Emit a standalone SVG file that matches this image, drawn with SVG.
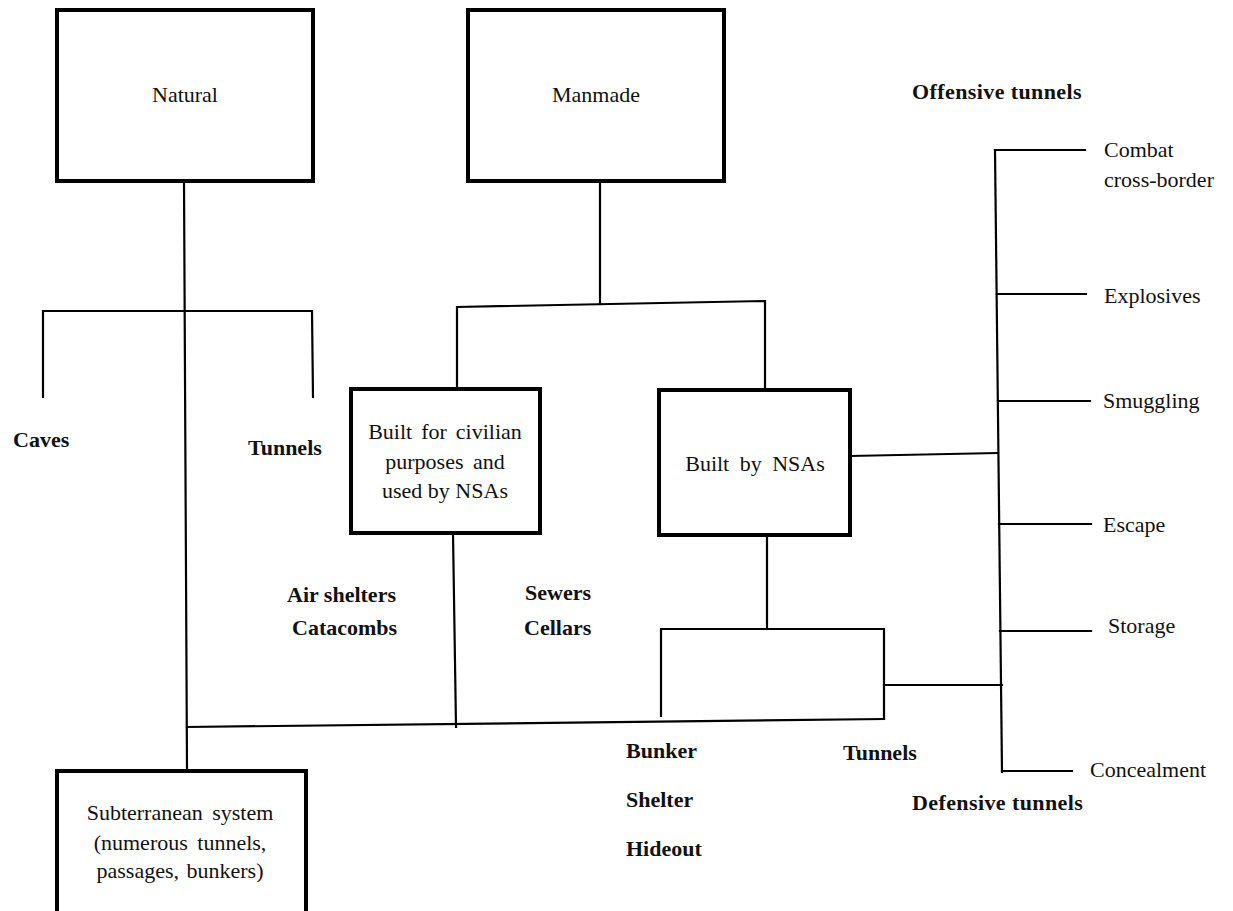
<svg xmlns="http://www.w3.org/2000/svg" width="1233" height="911" viewBox="0 0 1233 911">
<style>
.box{fill:#fff;stroke:#000;stroke-width:4}
.ln{fill:none;stroke:#000;stroke-width:2.2;stroke-linecap:square}
text{font-family:"Liberation Serif","Times New Roman",serif;font-size:22px;fill:#111}
.b{font-weight:bold}
.c{text-anchor:middle}
</style>
<rect width="1233" height="911" fill="#fff"/>
<g id="connectors">
<path class="ln" d="M184 181 L187 768"/>
<path class="ln" d="M43 397 L43 311 L312 311 L313 397"/>
<path class="ln" d="M600 181 L600 304"/>
<path class="ln" d="M457 389 L457 307 L765 301 L765 389"/>
<path class="ln" d="M453 533 L456 727"/>
<path class="ln" d="M187 727 L884 719"/>
<path class="ln" d="M767 535 L767 629"/>
<path class="ln" d="M661 716 L661 629 L884 629 L884 719"/>
<path class="ln" d="M884 685 L1002 685"/>
<path class="ln" d="M850 456 L997 453"/>
<path class="ln" d="M995 150 L1002 772"/>
<path class="ln" d="M995 150 L1085 150"/>
<path class="ln" d="M997 294 L1086 294"/>
<path class="ln" d="M998 401 L1090 401"/>
<path class="ln" d="M999 524 L1091 524"/>
<path class="ln" d="M1000 631 L1091 631"/>
<path class="ln" d="M1002 771 L1072 771"/>
</g>
<g id="natural">
<rect class="box" x="57" y="10" width="256" height="171"/>
<text class="c" x="185" y="102">Natural</text>
</g>
<g id="manmade">
<rect class="box" x="468" y="10" width="256" height="171"/>
<text class="c" x="596" y="102">Manmade</text>
</g>
<g id="caves"><text class="b" x="13" y="447">Caves</text></g>
<g id="tunnels-natural"><text class="b" x="248" y="455">Tunnels</text></g>
<g id="civilian">
<rect class="box" x="351" y="389" width="189" height="144"/>
<text class="c" x="445" y="439" word-spacing="3.5">Built for civilian</text>
<text class="c" x="445" y="469" word-spacing="4">purposes and</text>
<text class="c" x="445" y="498">used by NSAs</text>
</g>
<g id="built-nsas">
<rect class="box" x="659" y="390" width="191" height="145"/>
<text class="c" x="755" y="471" word-spacing="5">Built by NSAs</text>
</g>
<g id="civ-examples">
<text class="b" x="287" y="602">Air shelters</text>
<text class="b" x="292" y="635">Catacombs</text>
<text class="b" x="525" y="600">Sewers</text>
<text class="b" x="524" y="635">Cellars</text>
</g>
<g id="nsa-examples">
<text class="b" x="626" y="758">Bunker</text>
<text class="b" x="626" y="807">Shelter</text>
<text class="b" x="626" y="856">Hideout</text>
</g>
<g id="tunnels-nsa"><text class="b" x="843" y="760">Tunnels</text></g>
<g id="subterranean">
<rect class="box" x="57" y="771" width="249" height="150"/>
<text class="c" x="180" y="820" word-spacing="4">Subterranean system</text>
<text class="c" x="180" y="850" word-spacing="4">(numerous tunnels,</text>
<text class="c" x="180" y="878" word-spacing="2">passages, bunkers)</text>
</g>
<g id="offensive"><text class="b" x="912" y="99" letter-spacing="0.4">Offensive tunnels</text></g>
<g id="defensive"><text class="b" x="912" y="810" letter-spacing="0.4">Defensive tunnels</text></g>
<g id="purposes">
<text x="1104" y="157">Combat</text>
<text x="1104" y="187">cross-border</text>
<text x="1104" y="303">Explosives</text>
<text x="1103" y="408">Smuggling</text>
<text x="1103" y="532">Escape</text>
<text x="1108" y="633">Storage</text>
<text x="1090" y="777">Concealment</text>
</g>
</svg>
